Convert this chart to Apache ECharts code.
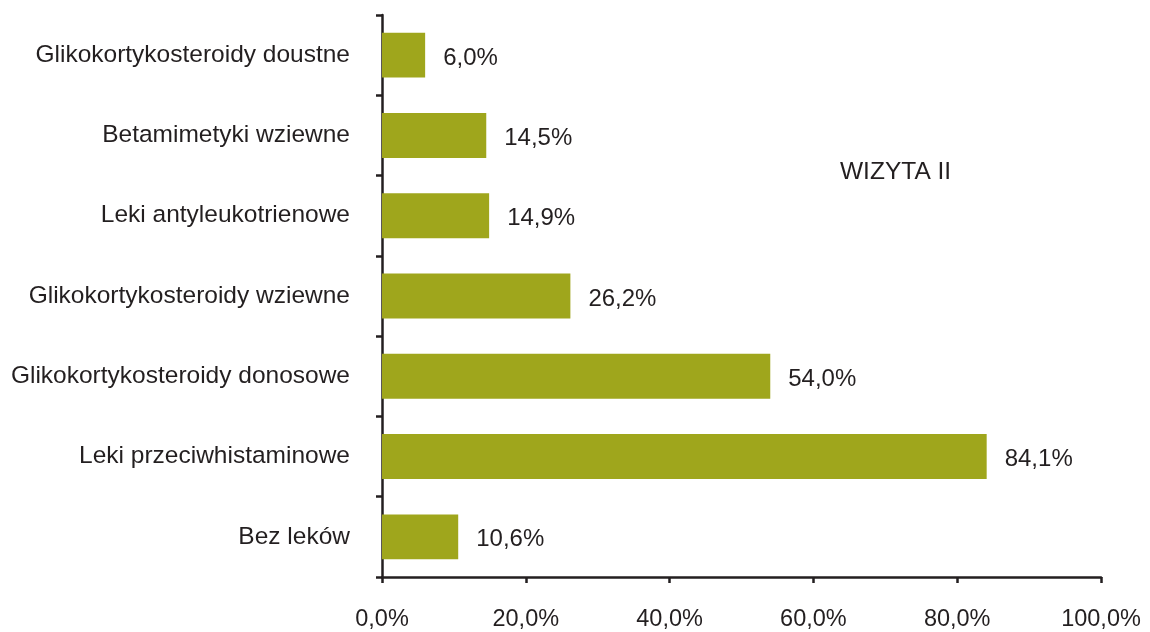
<!DOCTYPE html>
<html><head><meta charset="utf-8">
<script src="https://cdn.jsdelivr.net/npm/echarts@6/dist/echarts.min.js"></script>
<style>html,body{margin:0;padding:0;background:#fff}#c{width:1150px;height:632px}</style>
</head><body><div id="c"></div>
<script>
const categories = ["Bez leków","Leki przeciwhistaminowe","Glikokortykosteroidy donosowe","Glikokortykosteroidy wziewne","Leki antyleukotrienowe","Betamimetyki wziewne","Glikokortykosteroidy doustne"];
const values = [10.6, 84.1, 54.0, 26.2, 14.9, 14.5, 6.0];
const xTicks = [0, 20, 40, 60, 80, 100];
const title = "WIZYTA II";
const fmt = v => v.toFixed(1).replace('.', ',') + '%';
const chart = echarts.init(document.getElementById('c'));
chart.setOption({
  animation:false,
  textStyle:{fontFamily:'Liberation Sans, Arial, sans-serif'},
  grid:{left:382,right:49,top:15,bottom:54,containLabel:false},
  graphic:[{type:'text',left:840,top:160,style:{text:title,fontSize:24.5,fill:'#231f20',fontFamily:'Liberation Sans, Arial, sans-serif'}}],
  xAxis:{type:'value',min:0,max:100,interval:20,
    axisLine:{show:true,lineStyle:{color:'#231f20',width:2.5}},
    axisTick:{show:true,length:6,lineStyle:{color:'#231f20',width:2.5}},
    splitLine:{show:false},
    axisLabel:{margin:31,fontSize:23.5,color:'#231f20',formatter:v=>fmt(v),
      customValues:xTicks}},
  yAxis:{type:'category',data:categories,
    axisLine:{show:true,lineStyle:{color:'#231f20',width:2.5}},
    axisTick:{show:true,length:6,alignWithLabel:false,lineStyle:{color:'#231f20',width:2.5}},
    axisLabel:{margin:32,fontSize:24.5,color:'#231f20',padding:[6,0,0,0]}},
  series:[{type:'bar',data:values,barCategoryGap:'44%',
    itemStyle:{color:'#9fa61c'},
    label:{show:true,position:'right',distance:18,fontSize:24,color:'#231f20',offset:[0,3],formatter:p=>fmt(p.value)}}]
});
</script></body></html>
